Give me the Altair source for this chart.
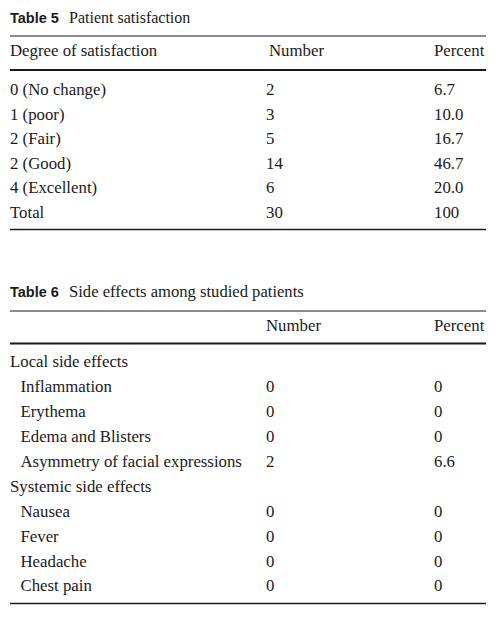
import altair as alt
import pandas as pd

# ---------------- data ----------------
t5_title_num = "Table 5"
t5_title = "Patient satisfaction"
t5_headers = ["Degree of satisfaction", "Number", "Percent"]
sat_labels = ["0 (No change)", "1 (poor)", "2 (Fair)", "2 (Good)", "4 (Excellent)", "Total"]
sat_number = ["2", "3", "5", "14", "6", "30"]
sat_percent = ["6.7", "10.0", "16.7", "46.7", "20.0", "100"]

t6_title_num = "Table 6"
t6_title = "Side effects among studied patients"
t6_headers = ["", "Number", "Percent"]
side_labels = ["Local side effects", "Inflammation", "Erythema", "Edema and Blisters",
               "Asymmetry of facial expressions", "Systemic side effects",
               "Nausea", "Fever", "Headache", "Chest pain"]
side_indent = [0, 1, 1, 1, 1, 0, 1, 1, 1, 1]
side_number = ["", "0", "0", "0", "2", "", "0", "0", "0", "0"]
side_percent = ["", "0", "0", "0", "6.6", "", "0", "0", "0", "0"]

# ---------------- layout (page pixels) ----------------
MX = 8            # page margin (left)
PAD_TOP = 10      # chart padding above the plot area
MY = 8 + PAD_TOP  # page y of plot-area origin
W, H = 484, 592
X_LEFT, X_INDENT, X_NUM, X_PCT, X_RIGHT = 10, 20.5, 266, 434, 486
X_NUM_HEAD5 = 269
X_TITLE_TEXT = 69

T5 = dict(title=22.5, top=36, head=55.7, thick=70, row0=95, pitch=24.5, bottom=229.5)
T6 = dict(title=297, top=311, head=331, thick=343.5, row0=367.3, pitch=24.9, bottom=603.5)

serif_rows, bold_rows, title5_rows, title6_rows, rule_rows = [], [], [], [], []

def add(rows, x, y, t):
    rows.append({"x": x - MX, "y": y - MY, "t": t})

# table 5
add(bold_rows, X_LEFT, T5["title"], t5_title_num)
add(title5_rows, X_TITLE_TEXT, T5["title"], t5_title)
add(serif_rows, X_LEFT, T5["head"], t5_headers[0])
add(serif_rows, X_NUM_HEAD5, T5["head"], t5_headers[1])
add(serif_rows, X_PCT, T5["head"], t5_headers[2])
for i, (lab, n, p) in enumerate(zip(sat_labels, sat_number, sat_percent)):
    y = T5["row0"] + i * T5["pitch"]
    add(serif_rows, X_LEFT, y, lab)
    add(serif_rows, X_NUM, y, n)
    add(serif_rows, X_PCT, y, p)

# table 6
add(bold_rows, X_LEFT, T6["title"], t6_title_num)
add(title6_rows, X_TITLE_TEXT, T6["title"], t6_title)
add(serif_rows, X_NUM, T6["head"], t6_headers[1])
add(serif_rows, X_PCT, T6["head"], t6_headers[2])
for i, (lab, ind, n, p) in enumerate(zip(side_labels, side_indent, side_number, side_percent)):
    y = T6["row0"] + i * T6["pitch"]
    add(serif_rows, X_INDENT if ind else X_LEFT, y, lab)
    if n:
        add(serif_rows, X_NUM, y, n)
    if p:
        add(serif_rows, X_PCT, y, p)

for T in (T5, T6):
    for key, sw in (("top", 1.0), ("thick", 2.2), ("bottom", 1.5)):
        rule_rows.append({"x": X_LEFT - MX, "x2": X_RIGHT - MX, "y": T[key] - MY, "sw": sw})

xs = alt.Scale(domain=[0, W], nice=False, zero=False)
ys = alt.Scale(domain=[0, H], nice=False, zero=False, reverse=True)

def text_layer(rows, font, size, weight="normal"):
    return alt.Chart(pd.DataFrame(rows)).mark_text(
        align="left", baseline="alphabetic", font=font, fontSize=size,
        fontWeight=weight, color="#1a1a1a", clip=False
    ).encode(
        x=alt.X("x:Q", scale=xs, axis=None),
        y=alt.Y("y:Q", scale=ys, axis=None),
        text="t:N",
    )

rules = alt.Chart(pd.DataFrame(rule_rows)).mark_rule(color="#1a1a1a").encode(
    x=alt.X("x:Q", scale=xs, axis=None),
    x2="x2:Q",
    y=alt.Y("y:Q", scale=ys, axis=None),
    strokeWidth=alt.StrokeWidth("sw:Q", scale=None, legend=None),
)

chart = alt.layer(
    rules,
    text_layer(serif_rows, "Liberation Serif", 16.8),
    text_layer(title5_rows, "Liberation Serif", 16),
    text_layer(title6_rows, "Liberation Serif", 16.6),
    text_layer(bold_rows, "Liberation Sans", 14.5, "bold"),
).properties(
    width=W, height=H,
    padding={"left": 0, "top": PAD_TOP, "right": 0, "bottom": 0},
    autosize=alt.AutoSizeParams(type="none"),
    background="white",
).configure_view(stroke=None)

chart.save("out.html", embed_options={"renderer": "svg", "actions": False})
